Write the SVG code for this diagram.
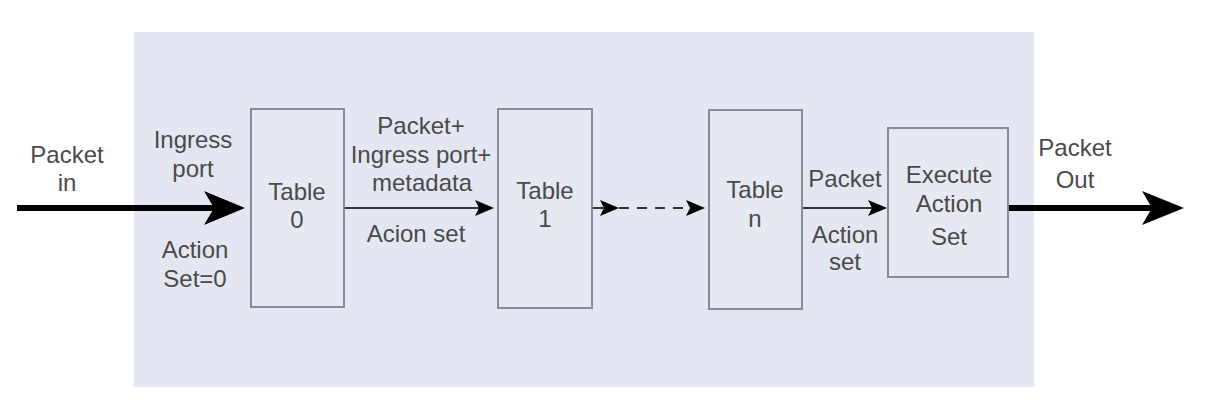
<svg xmlns="http://www.w3.org/2000/svg" width="1210" height="407" viewBox="0 0 1210 407">
<style>
.t{font-family:"Liberation Sans",Arial,sans-serif;font-size:24px;fill:#4a4a4a;text-anchor:middle}
.box{fill:#e6e9f2;stroke:#878c96;stroke-width:2}
.thin{stroke:#333;stroke-width:2;fill:none}
.thick{stroke:#000;stroke-width:6;fill:none}
.head{fill:#000}
</style>
<rect x="134" y="32" width="900" height="355" fill="#e4e7f1"/>
<g id="connectors">
<line class="thick" x1="17" y1="208" x2="215" y2="208"/>
<path class="head" d="M204,191 L245,208 L204,225 L214,208 Z"/>
<line class="thin" x1="344" y1="208" x2="480" y2="208"/>
<path class="head" d="M475,200 L494,208 L475,216 L479,208 Z"/>
<line class="thin" x1="592" y1="208" x2="604" y2="208"/>
<path class="head" d="M600,200 L619,208 L600,216 L604,208 Z"/>
<line class="thin" x1="619" y1="208" x2="690" y2="208" stroke-dasharray="10,8"/>
<path class="head" d="M686,200 L705,208 L686,216 L690,208 Z"/>
<line class="thin" x1="802" y1="208" x2="872" y2="208"/>
<path class="head" d="M868,200 L887,208 L868,216 L872,208 Z"/>
<line class="thick" x1="1008" y1="208" x2="1152" y2="208"/>
<path class="head" d="M1142,191 L1184,208 L1142,225 L1152,208 Z"/>
</g>
<g id="label-packet-in">
<text class="t" x="67" y="163">Packet</text>
<text class="t" x="67" y="191">in</text>
</g>
<g id="label-ingress">
<text class="t" x="193" y="148">Ingress</text>
<text class="t" x="193" y="177">port</text>
</g>
<g id="label-actionset0">
<text class="t" x="195" y="258">Action</text>
<text class="t" x="195" y="287">Set=0</text>
</g>
<g id="table0">
<rect class="box" x="251" y="109" width="93" height="198"/>
<text class="t" x="297" y="200">Table</text>
<text class="t" x="297" y="228">0</text>
</g>
<g id="label-packet-meta">
<text class="t" x="421" y="134">Packet+</text>
<text class="t" x="421" y="163">Ingress port+</text>
<text class="t" x="422" y="191">metadata</text>
<text class="t" x="416" y="242">Acion set</text>
</g>
<g id="table1">
<rect class="box" x="498" y="109" width="94" height="199"/>
<text class="t" x="545" y="199">Table</text>
<text class="t" x="545" y="227">1</text>
</g>
<g id="tablen">
<rect class="box" x="709" y="110" width="93" height="199"/>
<text class="t" x="755" y="198">Table</text>
<text class="t" x="755" y="227">n</text>
</g>
<g id="label-packet-action">
<text class="t" x="845" y="187">Packet</text>
<text class="t" x="845" y="243">Action</text>
<text class="t" x="845" y="270">set</text>
</g>
<g id="execute">
<rect class="box" x="888" y="128" width="120" height="149"/>
<text class="t" x="949" y="183">Execute</text>
<text class="t" x="949" y="212">Action</text>
<text class="t" x="949" y="245">Set</text>
</g>
<g id="label-packet-out">
<text class="t" x="1075" y="156">Packet</text>
<text class="t" x="1075" y="188">Out</text>
</g>
</svg>
